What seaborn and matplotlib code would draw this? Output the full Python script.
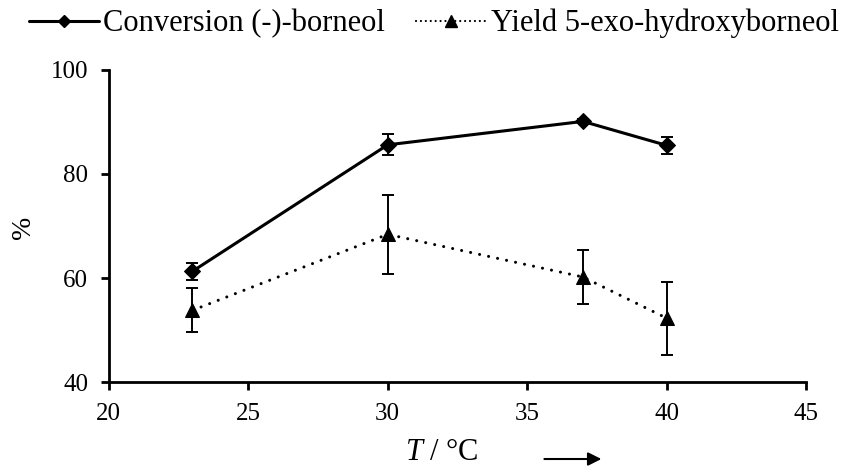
import matplotlib
matplotlib.use("Agg")
import matplotlib.pyplot as plt
import seaborn as sns
import pandas as pd
from matplotlib.lines import Line2D

temps = [23, 30, 37, 40]
conversion = [61.3, 85.6, 90.1, 85.5]
conversion_err = [1.6, 2.0, 0.4, 1.6]
yield_vals = [53.8, 68.4, 60.2, 52.3]
yield_err = [4.2, 7.6, 5.2, 7.0]
labels = ["Conversion (-)-borneol", "Yield 5-exo-hydroxyborneol"]
xticks = [20, 25, 30, 35, 40, 45]
yticks = [40, 60, 80, 100]

sns.set_theme(style="ticks")
plt.rcParams['font.family'] = ['Liberation Serif', 'DejaVu Serif']
plt.rcParams['mathtext.fontset'] = 'custom'
plt.rcParams['mathtext.it'] = 'Liberation Serif:italic'
plt.rcParams['mathtext.rm'] = 'Liberation Serif'
for k in ['text.color', 'axes.labelcolor', 'xtick.color', 'ytick.color', 'axes.edgecolor']:
    plt.rcParams[k] = 'black'
plt.rcParams['lines.dash_capstyle'] = 'round'

df = pd.DataFrame({"T": temps * 2,
                   "val": conversion + yield_vals,
                   "series": [labels[0]] * 4 + [labels[1]] * 4})

fig = plt.figure(figsize=(8.57, 4.66), dpi=100)
ax = fig.add_axes([0.127, 0.180, 0.8135, 0.670])

dot = (0.01, 3.0)
sns.lineplot(data=df, x="T", y="val", hue="series", style="series",
             palette=["black", "black"], dashes=[(None, None), dot],
             markers=["D", "^"], linewidth=2.2, ax=ax, legend=False,
             markeredgecolor="black")
for ln, ms in zip(ax.get_lines()[:2], [8, 10]):
    ln.set_markersize(ms)
ax.errorbar(temps, conversion, yerr=conversion_err, fmt="none", ecolor="black",
            elinewidth=1.4, capsize=4.5, capthick=1.4)
ax.errorbar(temps, yield_vals, yerr=yield_err, fmt="none", ecolor="black",
            elinewidth=1.4, capsize=4.5, capthick=1.4)

ax.set_xlim(20, 45)
ax.set_ylim(40, 100)
ax.set_xticks(xticks)
ax.set_yticks(yticks)
ax.tick_params(axis="both", labelsize=18, direction="out", length=6, width=2, pad=9)
for s in ["top", "right"]:
    ax.spines[s].set_visible(False)
for s in ["left", "bottom"]:
    ax.spines[s].set_linewidth(2)
ax.set_xlabel("")
ax.set_ylabel("")
fig.text(0.027, 0.513, "%", fontsize=20, rotation=90, ha="center", va="center")

fig.text(0.516, 0.012, r"$T$ / °C", fontsize=22, ha="center", va="baseline")
ax.annotate("", xy=(0.705, 0.015), xytext=(0.632, 0.015), xycoords="figure fraction",
            textcoords="figure fraction",
            arrowprops=dict(arrowstyle="-|>", color="black", lw=1.5, mutation_scale=20))

handles = [Line2D([], [], color="black", lw=2.2, marker="D", markersize=6),
           Line2D([], [], color="black", lw=1.6, ls=(0, (0.01, 2.2)), marker="^", markersize=9)]
fig.legend(handles, labels, loc="upper center", bbox_to_anchor=(0.506, 1.04), ncol=2,
           frameon=False, fontsize=22, handlelength=2.3, handletextpad=0.15,
           columnspacing=1.0)

fig.savefig("out.png", dpi=100)
